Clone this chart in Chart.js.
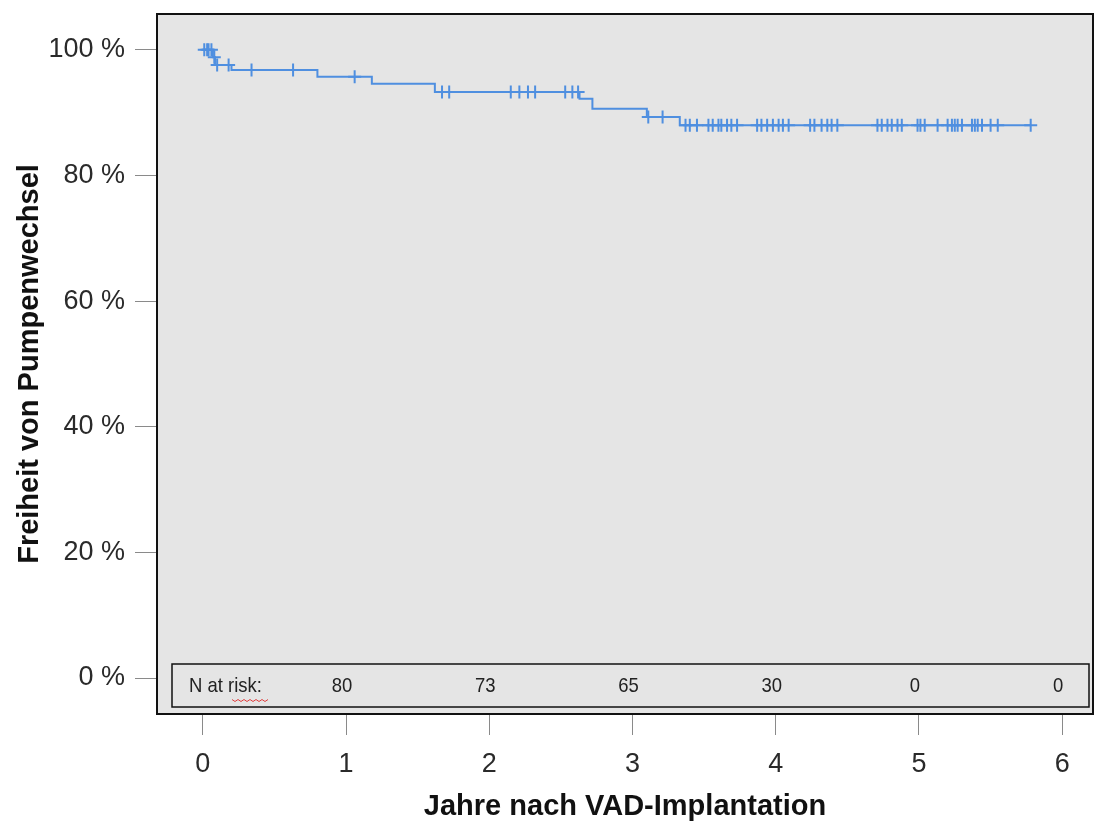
<!DOCTYPE html>
<html>
<head>
<meta charset="utf-8">
<script src="https://cdn.jsdelivr.net/npm/chart.js@4.4.1/dist/chart.umd.min.js"></script>
<style>
  html, body { margin: 0; padding: 0; background: #fff; overflow: hidden; }
  canvas { display: block; }
</style>
</head>
<body>
<canvas id="chart" width="1096" height="824"></canvas>
<script>
// Kaplan-Meier curve: time (years) where the curve steps, survival (%) after the step
const stepTimes = [0, 0.07, 0.085, 0.20, 0.80, 1.18, 1.62, 2.63, 2.72, 3.10, 3.33, 5.78];
const stepSurv = [100, 98.8, 97.6, 96.8, 95.7, 94.6, 93.3, 92.2, 90.6, 89.3, 88.0, 88.0];

// censored observations, grouped by the level of the curve they sit on
const censorLevels = [100, 98.8, 97.6, 96.8, 95.7, 93.3, 89.3, 88.0];
const censorGroups = [
  [0.01, 0.03, 0.04, 0.06],
  [0.08],
  [0.10, 0.18],
  [0.34, 0.63],
  [1.06],
  [1.67, 1.72, 2.15, 2.21, 2.27, 2.32, 2.53, 2.58, 2.62],
  [3.11, 3.21],
  [3.37, 3.40, 3.45, 3.53, 3.56, 3.60, 3.62, 3.66, 3.69, 3.73,
   3.87, 3.90, 3.94, 3.98, 4.02, 4.05, 4.09, 4.24, 4.27, 4.32,
   4.36, 4.39, 4.43, 4.71, 4.74, 4.78, 4.81, 4.85, 4.88, 4.99,
   5.01, 5.04, 5.13, 5.20, 5.23, 5.25, 5.27, 5.30, 5.37, 5.39,
   5.41, 5.44, 5.50, 5.55, 5.78]
];

const xTicks = [0, 1, 2, 3, 4, 5, 6];
const yTicks = [0, 20, 40, 60, 80, 100];

const riskTimes = [1, 2, 3, 4, 5, 6];
const riskCounts = [80, 73, 65, 30, 0, 0];

const lineColor = "#4f8fe0";

const curvePoints = stepTimes.map((t, i) => ({ x: t, y: stepSurv[i] }));
const censorPoints = [];
censorGroups.forEach((group, i) => {
  group.forEach((t) => censorPoints.push({ x: t, y: censorLevels[i] }));
});

function condensedText(ctx, text, x, y, align) {
  ctx.save();
  ctx.translate(x, y);
  ctx.scale(0.88, 1);
  ctx.textAlign = align;
  ctx.fillText(text, 0, 0);
  ctx.restore();
}

const plotDecor = {
  id: "plotDecor",
  beforeDraw(chart) {
    const { ctx, chartArea } = chart;
    ctx.save();
    ctx.fillStyle = "#e5e5e5";
    ctx.fillRect(chartArea.left, chartArea.top, chartArea.right - chartArea.left, chartArea.bottom - chartArea.top);
    ctx.restore();
  },
  afterDraw(chart) {
    const { ctx, chartArea, scales } = chart;
    ctx.save();
    // box around the plot
    ctx.strokeStyle = "#111";
    ctx.lineWidth = 2;
    ctx.strokeRect(chartArea.left, chartArea.top, chartArea.right - chartArea.left, chartArea.bottom - chartArea.top);

    // N at risk table
    const bx = chartArea.left + 15;
    const bw = chartArea.right - 4 - bx;
    const by = chartArea.bottom - 50;
    const bh = 43;
    ctx.lineWidth = 1.5;
    ctx.strokeRect(bx, by, bw, bh);

    ctx.fillStyle = "#222";
    ctx.font = "21px 'Liberation Sans', Arial, sans-serif";
    ctx.textBaseline = "middle";
    const ty = by + bh / 2 + 1;
    condensedText(ctx, "N at risk:", bx + 17, ty, "left");
    riskTimes.forEach((t, i) => {
      condensedText(ctx, String(riskCounts[i]), scales.x.getPixelForValue(t) - 4, ty, "center");
    });

    // spell-check squiggle under "risk"
    ctx.strokeStyle = "#e04040";
    ctx.lineWidth = 1;
    ctx.beginPath();
    const sx = bx + 60;
    const sy = ty + 13;
    for (let i = 0; i <= 12; i++) {
      const px = sx + i * 3;
      const py = sy + (i % 2 === 0 ? 0 : 2);
      if (i === 0) ctx.moveTo(px, py);
      else ctx.lineTo(px, py);
    }
    ctx.stroke();
    ctx.restore();
  }
};

const tickFont = { family: "'Liberation Sans', Arial, sans-serif", size: 27 };
const titleFont = { family: "'Liberation Sans', Arial, sans-serif", size: 29, weight: "bold" };

new Chart(document.getElementById("chart"), {
  type: "line",
  data: {
    datasets: [
      {
        label: "Freiheit von Pumpenwechsel",
        data: curvePoints,
        borderColor: lineColor,
        borderWidth: 2,
        stepped: true,
        pointRadius: 0,
        fill: false
      },
      {
        label: "zensiert",
        data: censorPoints,
        showLine: false,
        pointStyle: "cross",
        pointRadius: 6.5,
        pointBorderWidth: 2,
        pointBorderColor: lineColor,
        pointBackgroundColor: lineColor
      }
    ]
  },
  options: {
    responsive: false,
    animation: false,
    layout: { autoPadding: false, padding: { top: 14, right: 3, left: 0, bottom: 0 } },
    plugins: {
      legend: { display: false },
      tooltip: { enabled: false }
    },
    scales: {
      x: {
        type: "linear",
        min: -0.32,
        max: 6.215,
        afterBuildTicks: (scale) => { scale.ticks = xTicks.map((v) => ({ value: v })); },
        afterFit: (scale) => {
          scale.height = 110;
          scale.paddingLeft = 0;
          scale.paddingRight = 0;
        },
        ticks: { color: "#2a2a2a", font: tickFont, padding: 13, maxRotation: 0 },
        grid: { drawOnChartArea: false, drawTicks: true, tickLength: 21, color: "#8a8a8a", lineWidth: 1 },
        border: { display: false },
        title: {
          display: true,
          text: "Jahre nach VAD-Implantation",
          color: "#111",
          font: titleFont,
          padding: { top: 0, bottom: 0 }
        }
      },
      y: {
        type: "linear",
        min: -5.73,
        max: 105.7,
        afterBuildTicks: (scale) => { scale.ticks = yTicks.map((v) => ({ value: v })); },
        afterFit: (scale) => {
          scale.width = 157;
          scale.paddingTop = 0;
          scale.paddingBottom = 0;
        },
        ticks: { color: "#2a2a2a", font: tickFont, padding: 10, callback: (v) => v + " %" },
        grid: { drawOnChartArea: false, drawTicks: true, tickLength: 22, color: "#8a8a8a", lineWidth: 1 },
        border: { display: false },
        title: {
          display: true,
          text: "Freiheit von Pumpenwechsel",
          color: "#111",
          font: titleFont,
          padding: { top: 13, bottom: 0 }
        }
      }
    }
  },
  plugins: [plotDecor]
});
</script>
</body>
</html>
